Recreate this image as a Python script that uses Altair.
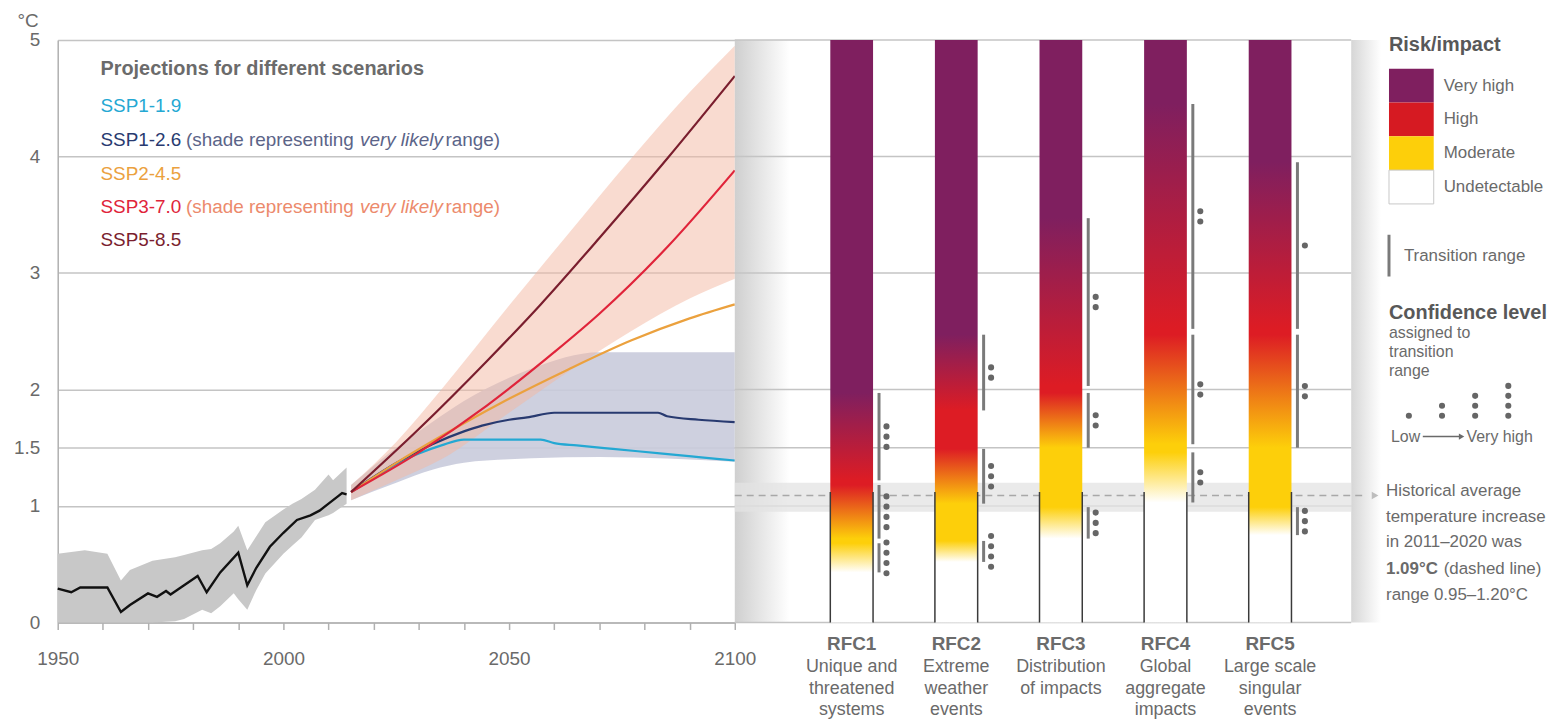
import altair as alt
import pandas as pd

FONT = "Liberation Sans Narrow, Liberation Sans, sans-serif"
TXT = "#6a6a6a"
W_L, W_R, W_G, H = 681, 620, 205, 586
Y_MIN, Y_MAX = 0, 5

# ---------------- data ----------------
grid_vals = [0, 1, 1.5, 2, 3, 4, 5]
year_ticks = list(range(1950, 2101, 10))

hist_years = [1950, 1953, 1955, 1961, 1964, 1966, 1970, 1972, 1974, 1975, 1978, 1981, 1983,
              1986, 1990, 1992, 1994, 1997, 2000, 2003, 2006, 2008, 2010, 2012, 2013, 2014]
hist_mean = [0.29, 0.26, 0.30, 0.30, 0.09, 0.15, 0.25, 0.22, 0.27, 0.24, 0.32, 0.40, 0.26,
             0.43, 0.60, 0.32, 0.47, 0.65, 0.77, 0.88, 0.92, 0.96, 1.02, 1.08, 1.11, 1.10]

band_years = [1950, 1956, 1961, 1964, 1966, 1971, 1976, 1978, 1982, 1984, 1986, 1989, 1990,
              1992, 1994, 1996, 2000, 2002, 2004, 2007, 2010, 2011, 2014]
band_lo = [0.0, 0.0, 0.0, 0.0, 0.0, 0.0, 0.01, 0.03, 0.11, 0.08, 0.14, 0.25, 0.20,
           0.11, 0.28, 0.42, 0.59, 0.66, 0.73, 0.88, 0.92, 0.94, 1.02]
band_hi = [0.59, 0.62, 0.59, 0.36, 0.45, 0.53, 0.56, 0.58, 0.62, 0.63, 0.68, 0.78, 0.83,
           0.62, 0.74, 0.86, 0.97, 1.02, 1.06, 1.14, 1.27, 1.22, 1.33]

scen_names = ["SSP1-1.9", "SSP1-2.6", "SSP2-4.5", "SSP3-7.0", "SSP5-8.5"]
scen_colors = ["#24a8d3", "#283a70", "#eba13e", "#e0243a", "#7a1e2e"]

ssp119_years = [2015, 2020, 2025, 2030, 2035, 2040, 2050, 2057, 2060, 2065, 2073, 2084, 2092, 2100]
ssp119_vals = [1.12, 1.24, 1.36, 1.45, 1.52, 1.57, 1.57, 1.57, 1.54, 1.52, 1.49, 1.45, 1.42, 1.39]
ssp126_years = [2015, 2020, 2025, 2033, 2040, 2044, 2050, 2054, 2060, 2070, 2083, 2085, 2092, 2100]
ssp126_vals = [1.12, 1.25, 1.37, 1.53, 1.64, 1.69, 1.74, 1.76, 1.80, 1.80, 1.80, 1.77, 1.74, 1.72]
ssp245_years = [2015, 2025, 2035, 2048, 2063, 2077, 2090, 2100]
ssp245_vals = [1.12, 1.37, 1.60, 1.88, 2.17, 2.42, 2.61, 2.73]
ssp370_years = [2015, 2030, 2045, 2060, 2070, 2085, 2100]
ssp370_vals = [1.12, 1.46, 1.86, 2.32, 2.65, 3.22, 3.88]
ssp585_years = [2015, 2030, 2045, 2057, 2070, 2085, 2100]
ssp585_vals = [1.12, 1.66, 2.24, 2.73, 3.30, 3.98, 4.69]

shade126_years = [2015, 2025, 2033, 2040, 2050, 2055, 2070, 2100]
shade126_lo = [1.05, 1.20, 1.31, 1.37, 1.40, 1.41, 1.42, 1.38]
shade126_hi = [1.18, 1.50, 1.72, 1.90, 2.10, 2.18, 2.32, 2.32]
shade370_years = [2015, 2025, 2035, 2050, 2063, 2077, 2090, 2100]
shade370_lo = [1.05, 1.22, 1.40, 1.80, 2.15, 2.50, 2.78, 2.95]
shade370_hi = [1.18, 1.55, 2.00, 2.72, 3.33, 3.98, 4.55, 4.95]

hist_avg = 1.09
hist_range = [0.95, 1.20]
outline_top = 1.12

rfc_ids = ["RFC1", "RFC2", "RFC3", "RFC4", "RFC5"]
rfc_desc = ["Unique and\nthreatened\nsystems", "Extreme\nweather\nevents",
            "Distribution\nof impacts", "Global\naggregate\nimpacts", "Large scale\nsingular\nevents"]
# transition ranges: undetectable->moderate, moderate->high, high->very high
um_lo = [0.43, 0.52, 0.72, 1.03, 0.75]
um_hi = [0.68, 0.70, 0.99, 1.46, 0.99]
um_conf = [4, 4, 3, 2, 3]
mh_lo = [0.72, 1.02, 1.50, 1.53, 1.50]
mh_hi = [1.18, 1.49, 1.97, 2.47, 2.47]
mh_conf = [4, 3, 2, 2, 2]
hv_lo = [1.22, 1.82, 2.03, 2.52, 2.52]
hv_hi = [1.97, 2.47, 3.47, 4.45, 3.95]
hv_conf = [3, 2, 2, 2, 1]

risk_levels = ["Very high", "High", "Moderate", "Undetectable"]
risk_colors = ["#7f1f5f", "#d61a22", "#fdcf0a", "#ffffff"]
conf_levels = [1, 2, 3, 4]

# ---------------- helpers ----------------
def txt(s, x, y, size=17, color=TXT, weight="normal", style="normal", align="left",
        baseline="middle", lh=None):
    mk = dict(align=align, baseline=baseline, font=FONT, fontSize=size, color=color,
              fontWeight=weight, fontStyle=style)
    if lh:
        mk["lineBreak"] = "\n"
        mk["lineHeight"] = lh
    return alt.Chart(pd.DataFrame({"t": [s]})).mark_text(**mk).encode(
        x=alt.value(x), y=alt.value(y), text="t:N")

dummy = pd.DataFrame({"a": [0]})

# ---------------- left panel ----------------
xs = alt.Scale(domain=[1950, 2100], nice=False, zero=False)
ys = alt.Scale(domain=[Y_MIN, Y_MAX], nice=False)
x_axis = alt.Axis(values=year_ticks, format="d",
                  labelExpr="datum.value % 50 === 0 ? datum.label : ''",
                  grid=False, tickSize=7, tickColor="#b0b0b0", tickWidth=1.5,
                  domainColor="#b0b0b0", domainWidth=1.5, labelFont=FONT, labelFontSize=19,
                  labelColor=TXT, labelPadding=20, labelFlush=False, labelOverlap=False, title=None)
y_axis = alt.Axis(values=grid_vals, labelExpr="format(datum.value, '.1~f')", grid=True,
                  gridColor="#c4c4c4", gridWidth=1.5,
                  domainColor="#b0b0b0", domainWidth=1.5, ticks=False, labelPadding=18,
                  labelFont=FONT, labelFontSize=19, labelColor=TXT,
                  title="°C", titleAngle=0, titleX=-41, titleY=-19, titleAlign="left",
                  titleBaseline="middle", titleFont=FONT, titleFontSize=19,
                  titleFontWeight="normal", titleColor=TXT)

def X(f="year"):
    return alt.X(f"{f}:Q", scale=xs, axis=x_axis)

def Y(f):
    return alt.Y(f"{f}:Q", scale=ys, axis=y_axis)

hist_band_df = pd.DataFrame({"year": band_years, "lo": band_lo, "hi": band_hi})
hist_df = pd.DataFrame({"year": hist_years, "val": hist_mean})
s126_df = pd.DataFrame({"year": shade126_years, "lo": shade126_lo, "hi": shade126_hi})
s370_df = pd.DataFrame({"year": shade370_years, "lo": shade370_lo, "hi": shade370_hi})

proj_rows = []
for name, yrs, vals in zip(scen_names,
                           [ssp119_years, ssp126_years, ssp245_years, ssp370_years, ssp585_years],
                           [ssp119_vals, ssp126_vals, ssp245_vals, ssp370_vals, ssp585_vals]):
    for yv, v in zip(yrs, vals):
        proj_rows.append({"scenario": name, "year": yv, "val": v})
proj_df = pd.DataFrame(proj_rows)

l_hband = alt.Chart(hist_band_df).mark_area(color="#c8c8c8").encode(x=X(), y=Y("lo"), y2="hi:Q")
l_b126 = alt.Chart(s126_df).mark_area(color="#c9cbdc", opacity=0.9, interpolate="monotone").encode(
    x=X(), y=Y("lo"), y2="hi:Q")
l_b370 = alt.Chart(s370_df).mark_area(color="#f3b8a2", opacity=0.5, interpolate="monotone").encode(
    x=X(), y=Y("lo"), y2="hi:Q")
l_hist = alt.Chart(hist_df).mark_line(color="#111111", strokeWidth=2.4).encode(x=X(), y=Y("val"))
l_proj = alt.Chart(proj_df).mark_line(strokeWidth=2.2, interpolate="monotone").encode(
    x=X(), y=Y("val"),
    color=alt.Color("scenario:N", scale=alt.Scale(domain=scen_names, range=scen_colors), legend=None),
    order=alt.Order("year:Q"))

shade_txt = "(shade representing"
left_texts = [
    txt("Projections for different scenarios", 43, 29, size=20, weight="bold", color="#6b6b6b"),
    txt(scen_names[0], 43, 67, size=19, color=scen_colors[0]),
    txt(scen_names[1], 43, 101, size=19, color=scen_colors[1]),
    txt(shade_txt, 129, 101, size=19, color="#5b6488"),
    txt("very likely", 304, 101, size=19, color="#5b6488", style="italic"),
    txt("range)", 390, 101, size=19, color="#5b6488"),
    txt(scen_names[2], 43, 135, size=19, color=scen_colors[2]),
    txt(scen_names[3], 43, 168, size=19, color=scen_colors[3]),
    txt(shade_txt, 129, 168, size=19, color="#ec8a6c"),
    txt("very likely", 304, 168, size=19, color="#ec8a6c", style="italic"),
    txt("range)", 390, 168, size=19, color="#ec8a6c"),
    txt(scen_names[4], 43, 201, size=19, color=scen_colors[4]),
]

left = alt.layer(l_hband, l_b126, l_b370, l_hist, l_proj, *left_texts).properties(
    width=W_L, height=H)

# ---------------- right panel ----------------
rx = alt.Scale(domain=[-0.07, 5.728], nice=False, zero=False)
ry = alt.Scale(domain=[Y_MIN, Y_MAX], nice=False)

def RX():
    return alt.X("idx:Q", scale=rx, axis=None)

def RY(f):
    return alt.Y(f"{f}:Q", scale=ry, axis=None)

rfc_df = pd.DataFrame({"rfc": rfc_ids, "idx": list(range(1, 6)), "desc": rfc_desc,
                       "base": [Y_MIN] * 5, "top": [Y_MAX] * 5, "otop": [outline_top] * 5})

shadow_l = alt.Chart(dummy).mark_rect(fill=alt.Gradient(
    gradient="linear", x1=0, x2=1, y1=0, y2=0,
    stops=[alt.GradientStop(offset=0, color="#cfcfcf"), alt.GradientStop(offset=1, color="#ffffff")]
)).encode(x=alt.value(0), x2=alt.value(55), y=alt.value(0), y2=alt.value(H))
shadow_r = alt.Chart(dummy).mark_rect(fill=alt.Gradient(
    gradient="linear", x1=0, x2=1, y1=0, y2=0,
    stops=[alt.GradientStop(offset=0, color="#d6d6d6"), alt.GradientStop(offset=1, color="#ffffff")]
)).encode(x=alt.value(W_R), x2=alt.value(W_R + 30), y=alt.value(0), y2=alt.value(H))

grid_df = pd.DataFrame({"g": grid_vals})
r_grid = alt.Chart(grid_df).mark_rule(color="#c4c4c4", strokeWidth=1.5).encode(
    y=RY("g"), x=alt.value(0), x2=alt.value(W_R))

hist_df2 = pd.DataFrame({"avg": [hist_avg], "lo": [hist_range[0]], "hi": [hist_range[1]]})
r_hband = alt.Chart(hist_df2).mark_rect(color="#e3e3e3", opacity=0.75).encode(
    y=RY("lo"), y2="hi:Q", x=alt.value(0), x2=alt.value(W_R))
r_dash = alt.Chart(hist_df2).mark_rule(color="#a8a8a8", strokeWidth=1.4, strokeDash=[7, 5]).encode(
    y=RY("avg"), x=alt.value(0), x2=alt.value(W_R + 16))
r_arrow = alt.Chart(hist_df2).mark_point(shape="triangle-right", filled=True, size=60,
                                         color="#bdbdbd", opacity=1).encode(
    y=RY("avg"), x=alt.value(W_R + 24))

white, yellow, red, purple = risk_colors[3], risk_colors[2], risk_colors[1], risk_colors[0]
bar_layers = []
for i, name in enumerate(rfc_ids):
    stops_def = [(0, white), (um_lo[i], white), (um_hi[i], yellow), (mh_lo[i], yellow),
                 (mh_hi[i], "#dd1c24"), (hv_lo[i], "#dd1c24"), (hv_hi[i], purple), (Y_MAX, purple)]
    grad = alt.Gradient(gradient="linear", x1=0, x2=0, y1=1, y2=0,
                        stops=[alt.GradientStop(offset=v / Y_MAX, color=c) for v, c in stops_def])
    bar_layers.append(
        alt.Chart(rfc_df).transform_filter(alt.datum.rfc == name)
        .mark_bar(size=43, fill=grad)
        .encode(x=RX(), y=RY("base"), y2="top:Q"))

outline_l = alt.Chart(rfc_df).mark_rule(color="#3a3a3a", strokeWidth=1.5, xOffset=-21.5).encode(
    x=RX(), y=RY("base"), y2="otop:Q")
outline_r = alt.Chart(rfc_df).mark_rule(color="#3a3a3a", strokeWidth=1.5, xOffset=21.5).encode(
    x=RX(), y=RY("base"), y2="otop:Q")

trans_rows, dot_rows = [], []
DOT_STEP = 0.088
for i in range(5):
    for lo, hi, n in [(um_lo[i], um_hi[i], um_conf[i]), (mh_lo[i], mh_hi[i], mh_conf[i]),
                      (hv_lo[i], hv_hi[i], hv_conf[i])]:
        trans_rows.append({"idx": i + 1, "lo": lo, "hi": hi})
        mid = (lo + hi) / 2
        for k in range(n):
            dot_rows.append({"idx": i + 1, "y": mid + (k - (n - 1) / 2) * DOT_STEP})
trans_df = pd.DataFrame(trans_rows)
dot_df = pd.DataFrame(dot_rows)

r_trans = alt.Chart(trans_df).mark_rule(color="#7a7a7a", strokeWidth=3, xOffset=27.5).encode(
    x=RX(), y=RY("lo"), y2="hi:Q")
r_dots = alt.Chart(dot_df).mark_circle(color="#666666", size=38, opacity=1, xOffset=35).encode(
    x=RX(), y=RY("y"))

r_lab = alt.Chart(rfc_df).mark_text(font=FONT, fontSize=19, fontWeight="bold", color="#6b6b6b",
                                    baseline="middle").encode(
    x=RX(), y=alt.value(H + 22), text="rfc:N")
r_desc = alt.Chart(rfc_df).mark_text(font=FONT, fontSize=18, color=TXT, baseline="top",
                                     lineBreak="\n", lineHeight=21.5).encode(
    x=RX(), y=alt.value(H + 36), text="desc:N")

right = alt.layer(shadow_l, shadow_r, r_grid, r_hband, r_dash, r_arrow, *bar_layers,
                  outline_l, outline_r, r_trans, r_dots, r_lab, r_desc).properties(
    width=W_R, height=H)

# ---------------- legend panel ----------------
lev_df = pd.DataFrame({"level": risk_levels})
lev_scale = alt.Scale(domain=risk_levels, range=[29, 165], paddingInner=0, paddingOuter=0)
g_sw = alt.Chart(lev_df).mark_rect(strokeWidth=1).encode(
    y=alt.Y("level:N", scale=lev_scale, axis=None),
    x=alt.value(38), x2=alt.value(83),
    fill=alt.Color("level:N", scale=alt.Scale(domain=risk_levels, range=risk_colors), legend=None),
    stroke=alt.condition(alt.datum.level == "Undetectable", alt.value("#c8c8c8"), alt.value("transparent")))
g_lab = alt.Chart(lev_df).mark_text(font=FONT, fontSize=17, color=TXT, align="left",
                                    baseline="middle").encode(
    y=alt.Y("level:N", scale=lev_scale, axis=None, bandPosition=0.5), x=alt.value(93), text="level:N")

dots_leg = pd.DataFrame([{"n": n, "k": k} for n in conf_levels for k in range(n)])
g_dots = alt.Chart(dots_leg).mark_circle(color="#666666", size=38, opacity=1).encode(
    x=alt.X("n:O", scale=alt.Scale(range=[58, 158], padding=0), axis=None),
    y=alt.Y("k:Q", scale=alt.Scale(domain=[0, 3], range=[378, 348]), axis=None))

g_trans = alt.Chart(dummy).mark_rule(color="#7a7a7a", strokeWidth=3).encode(
    x=alt.value(38), y=alt.value(196), y2=alt.value(238))
g_arrow_line = alt.Chart(dummy).mark_rule(color="#6a6a6a", strokeWidth=1.5).encode(
    x=alt.value(72), x2=alt.value(109), y=alt.value(399))
g_arrow_head = alt.Chart(dummy).mark_point(shape="triangle-right", filled=True, size=40,
                                           color="#6a6a6a", opacity=1).encode(
    x=alt.value(111), y=alt.value(399))

legend_texts = [
    txt("Risk/impact", 38, 5, size=20, weight="bold", color="#585858"),
    txt("Transition range", 53, 217, size=17),
    txt("Confidence level", 38, 275, size=20, weight="bold", color="#585858"),
    txt("assigned to\ntransition\nrange", 38, 287, size=16, baseline="top", lh=19),
    txt("Low", 40, 399, size=16),
    txt("Very high", 116, 399, size=16),
    txt("Historical average\ntemperature increase\nin 2011\u20132020 was", 35, 446, size=17,
        baseline="top", lh=25.5),
    txt("1.09\u00b0C", 35, 532, size=17, weight="bold"),
    txt("(dashed line)", 93, 532, size=17),
    txt("range 0.95\u20131.20\u00b0C", 35, 558, size=17),
]

legend = alt.layer(g_sw, g_lab, g_dots, g_trans, g_arrow_line, g_arrow_head, *legend_texts).resolve_scale(
    x="independent", y="independent", fill="independent").properties(width=W_G, height=H)

chart = alt.hconcat(left, right, legend, spacing=0, bounds="flush").configure_view(
    stroke=None).properties(padding={"left": 5, "top": 2, "right": 5, "bottom": 0}, background="white")

chart.save("out.html", embed_options={"renderer": "svg", "actions": False})
